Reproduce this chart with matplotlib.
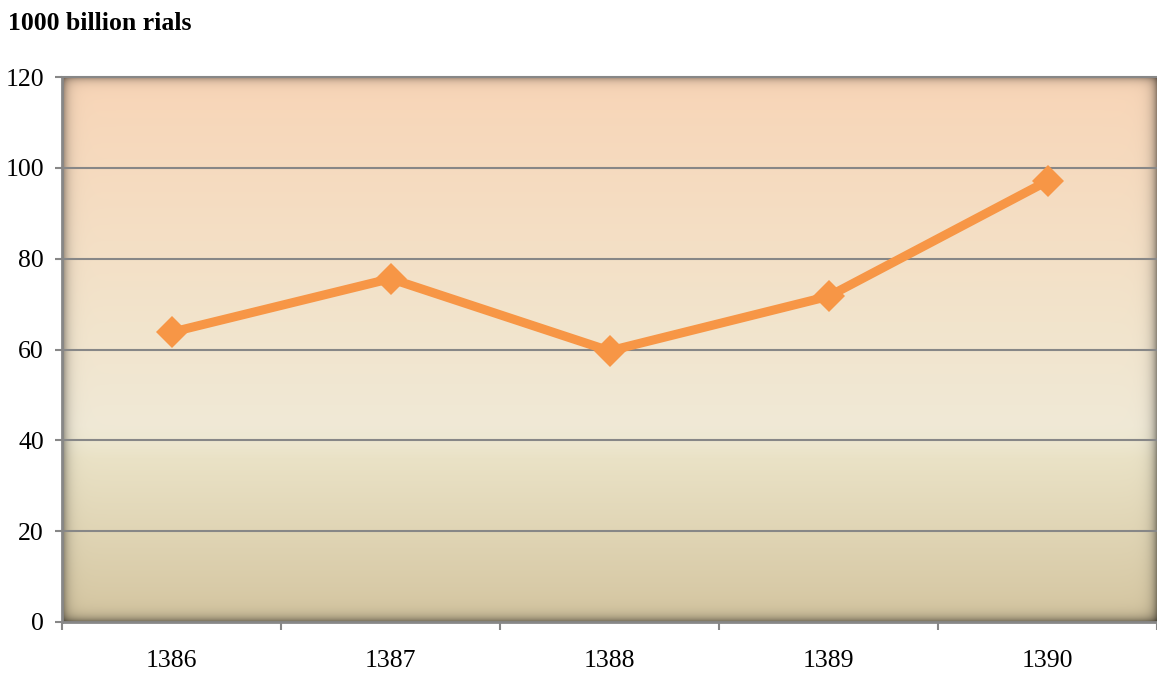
import numpy as np
import matplotlib
matplotlib.use("Agg")
import matplotlib.pyplot as plt

years = ["1386", "1387", "1388", "1389", "1390"]
values = [63.8, 75.6, 59.7, 71.7, 97.1]
yticks = [0, 20, 40, 60, 80, 100, 120]
unit_label = "1000 billion rials"

W, H, DPI = 1157, 675, 100
fig = plt.figure(figsize=(W / DPI, H / DPI), dpi=DPI)
ax = fig.add_axes([62 / W, 53 / H, (W - 62) / W, 545 / H])

# gradient background with inner shadow
ny, nx = 545, 1095
t = np.linspace(1, 0, ny)  # row 0 = top -> 1
stops = [0.0, 0.30, 0.335, 0.36, 0.55, 1.0]
cols = np.array([
    (212, 197, 160),
    (234, 226, 198),
    (238, 232, 210),
    (240, 233, 214),
    (242, 228, 204),
    (248, 213, 183),
]) / 255.0
img = np.zeros((ny, nx, 3))
for c in range(3):
    img[:, :, c] = np.interp(t, stops, cols[:, c])[:, None]
yy = np.arange(ny)[:, None]
xx = np.arange(nx)[None, :]
d_left = xx.astype(float)
d_right = (nx - 1 - xx).astype(float)
d_top = yy.astype(float)
d_bot = (ny - 1 - yy).astype(float)
shade = (1 - 0.45 * np.exp(-d_left / 5.0)) * (1 - 0.40 * np.exp(-d_right / 5.0)) \
    * (1 - 0.35 * np.exp(-d_top / 4.0)) * (1 - 0.45 * np.exp(-d_bot / 5.0))
img = img * shade[:, :, None]
img = np.clip(img, 0, 1)
ax.imshow(img, extent=[0, 1, 0, 1], transform=ax.transAxes, aspect="auto",
          zorder=0, interpolation="bilinear")

x = np.arange(len(years))
ax.set_xlim(-0.5, len(years) - 0.5)
ax.set_ylim(0, 120)

for yv in yticks[1:]:
    ax.axhline(yv, color="#878787", lw=1.5, zorder=1, clip_on=False)

ax.plot(x, values, color="#F79646", lw=6.5, marker="D", markersize=16.5,
        markeredgewidth=0, solid_joinstyle="miter", zorder=3)

ax.spines["right"].set_visible(False)
ax.spines["top"].set_visible(False)
for s in ["left", "bottom"]:
    ax.spines[s].set_color("#878787")
    ax.spines[s].set_linewidth(2)

ax.set_yticks(yticks)
ax.set_yticklabels([str(v) for v in yticks], family="Liberation Serif", fontsize=18.5)
ax.tick_params(axis="y", direction="out", length=5, width=1.5, color="#878787", pad=8)

ax.set_xticks(x)
ax.set_xticklabels(years, family="Liberation Serif", fontsize=18.5)
ax.tick_params(axis="x", which="major", length=0, pad=20)
ax.set_xticks(np.arange(-0.5, len(years) + 0.5, 1.0), minor=True)
ax.tick_params(axis="x", which="minor", direction="out", length=6, width=1.5, color="#878787")

fig.text(8 / W, 1 - 24 / H, unit_label, family="Liberation Serif", fontweight="bold",
         fontsize=18.5, va="center", ha="left")

fig.savefig("out.png", dpi=DPI)
